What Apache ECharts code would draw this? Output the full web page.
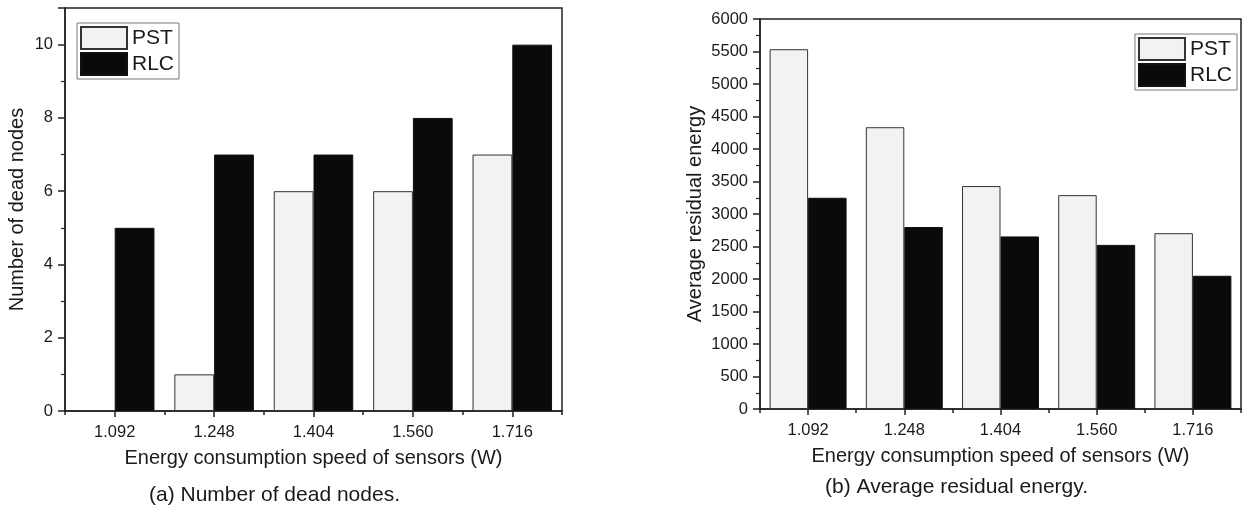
<!DOCTYPE html>
<html>
<head>
<meta charset="utf-8">
<script src="https://cdn.jsdelivr.net/npm/echarts@6/dist/echarts.min.js"></script>
<style>
html,body{margin:0;padding:0;background:#fff;}
#c{width:1244px;height:506px;}
</style>
</head>
<body>
<div id="c"></div>
<script>
var categories = ['1.092', '1.248', '1.404', '1.560', '1.716'];
var deadPST = [0, 1, 6, 6, 7];
var deadRLC = [5, 7, 7, 8, 10];
var energyPST = [5535, 4335, 3430, 3290, 2705];
var energyRLC = [3250, 2800, 2655, 2525, 2050];
var xTitle = 'Energy consumption speed of sensors (W)';
var yTitleA = 'Number of dead nodes';
var yTitleB = 'Average residual energy';
var captionA = '(a) Number of dead nodes.';
var captionB = '(b) Average residual energy.';

var FONT = '"Liberation Sans", Arial, Helvetica, sans-serif';
var TXT = '#1a1a1a';
var LINE = '#222';

var chart = echarts.init(document.getElementById('c'), null, {renderer: 'canvas'});

function mainX(gi, nameGap) {
  return {
    type: 'category', gridIndex: gi, data: categories, position: 'bottom',
    axisLine: {show: true, lineStyle: {color: LINE, width: 1.5}},
    axisTick: {show: true, alignWithLabel: true, length: 6, lineStyle: {color: LINE, width: 1.5}},
    axisLabel: {color: TXT, fontSize: 16.5, fontFamily: FONT, margin: 13},
    name: xTitle, nameLocation: 'middle', nameGap: nameGap,
    nameTextStyle: {color: TXT, fontSize: 20, fontFamily: FONT}
  };
}
function minorX(gi) {
  return {
    type: 'category', gridIndex: gi, data: categories, position: 'bottom',
    axisLine: {show: false},
    axisTick: {show: true, alignWithLabel: false, length: 4, interval: 0, lineStyle: {color: LINE, width: 1.5}},
    axisLabel: {show: false}, splitLine: {show: false}
  };
}
function yAx(gi, max, interval, name, nameGap) {
  return {
    type: 'value', gridIndex: gi, min: 0, max: max, interval: interval,
    axisLine: {show: true, lineStyle: {color: LINE, width: 1.5}},
    axisTick: {show: true, length: 7, lineStyle: {color: LINE, width: 1.5}},
    minorTick: {show: true, splitNumber: 2, length: 4, lineStyle: {color: LINE, width: 1.2}},
    splitLine: {show: false},
    axisLabel: {color: TXT, fontSize: 16.5, fontFamily: FONT, margin: 12,
      showMaxLabel: max % interval === 0,
      formatter: function (v) { return String(v); }},
    name: name, nameLocation: 'middle', nameGap: nameGap,
    nameTextStyle: {color: TXT, fontSize: 20, fontFamily: FONT}
  };
}
var pstStyle = {color: '#f2f2f2', borderColor: '#333', borderWidth: 1};
var rlcStyle = {color: '#0a0a0a', borderColor: '#111', borderWidth: 1};

function legend(pos) {
  return Object.assign({
    orient: 'vertical', data: ['PST', 'RLC'], icon: 'rect',
    itemWidth: 46, itemHeight: 22, itemGap: 2,
    padding: [3, 5, 3, 3], borderColor: '#777', borderWidth: 1,
    backgroundColor: '#fff',
    textStyle: {color: TXT, fontSize: 21, fontFamily: FONT, padding: [0, 0, 0, 0]},
    selectedMode: false
  }, pos);
}

var option = {
  backgroundColor: '#ffffff',
  animation: false,
  title: [
    {text: captionA, left: 149, top: 485, textStyle: {color: TXT, fontSize: 21, fontWeight: 'normal', fontFamily: FONT}, padding: 0},
    {text: captionB, left: 825, top: 477, textStyle: {color: TXT, fontSize: 21, fontWeight: 'normal', fontFamily: FONT}, padding: 0}
  ],
  legend: [
    legend({left: 77, top: 23}),
    legend({right: 7, top: 34})
  ],
  grid: [
    {left: 65, top: 8, width: 497, height: 403, show: true, borderColor: LINE, borderWidth: 1.5, backgroundColor: 'transparent'},
    {left: 760, top: 19, width: 481, height: 390, show: true, borderColor: LINE, borderWidth: 1.5, backgroundColor: 'transparent'}
  ],
  xAxis: [mainX(0, 37), mainX(1, 37), minorX(0), minorX(1)],
  yAxis: [yAx(0, 11, 2, yTitleA, 38), yAx(1, 6000, 500, yTitleB, 55)],
  series: [
    {name: 'PST', type: 'bar', xAxisIndex: 0, yAxisIndex: 0, data: deadPST, itemStyle: pstStyle, barGap: '0%', barCategoryGap: '20%'},
    {name: 'RLC', type: 'bar', xAxisIndex: 0, yAxisIndex: 0, data: deadRLC, itemStyle: rlcStyle, barGap: '0%', barCategoryGap: '20%'},
    {name: 'PST', type: 'bar', xAxisIndex: 1, yAxisIndex: 1, data: energyPST, itemStyle: pstStyle, barGap: '0%', barCategoryGap: '20%'},
    {name: 'RLC', type: 'bar', xAxisIndex: 1, yAxisIndex: 1, data: energyRLC, itemStyle: rlcStyle, barGap: '0%', barCategoryGap: '20%'}
  ]
};
chart.setOption(option);
</script>
</body>
</html>
